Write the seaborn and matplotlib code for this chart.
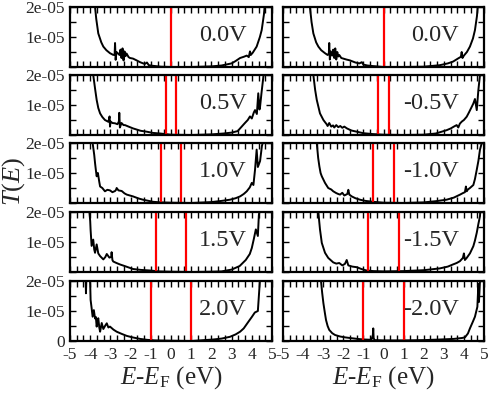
import numpy as np
import matplotlib
matplotlib.use("Agg")
import matplotlib.pyplot as plt
from matplotlib.ticker import AutoMinorLocator, FixedLocator, FixedFormatter
import seaborn as sns

sns.set_style("ticks")
plt.rcParams['font.family'] = ['Liberation Serif', 'DejaVu Serif']
plt.rcParams['mathtext.fontset'] = 'custom'
plt.rcParams['mathtext.rm'] = 'Liberation Serif'
plt.rcParams['mathtext.it'] = 'Liberation Serif:italic'

# ---- data (T(E) in units of 1e-05) ----
SCALE = 1e-05
bias_left = [0.0, 0.5, 1.0, 1.5, 2.0]
bias_right = [0.0, -0.5, -1.0, -1.5, -2.0]
label_left = ["0.0V", "0.5V", "1.0V", "1.5V", "2.0V"]
label_right = ["0.0V", "-0.5V", "-1.0V", "-1.5V", "-2.0V"]

x_l1 = [-3.85,-3.76,-3.7,-3.6,-3.45,-3.35,-3.2,-3.02,-2.85,-2.79,-2.77,-2.74,-2.7,-2.62,-2.55,-2.5,-2.45,-2.4,-2.35,-2.3,-2.25,-2.2,-2.1,-2.03,-1.88,-1.7,-1.53,-1.3,-1.19,-1.1,-0.9,-0.5,0.0,1.0,2.0,2.5,3.0,3.2,3.42,3.6,3.75,3.85,3.91,3.95,4.05,4.24,4.4,4.49,4.6,4.7]
y_l1 = [2.5,2.0,1.6,1.12,0.82,0.68,0.56,0.46,0.40,0.42,0.80,0.24,0.50,0.45,0.40,0.58,0.30,0.62,0.22,0.52,0.36,0.45,0.33,0.30,0.28,0.22,0.16,0.10,0.15,0.06,0.04,0.01,0.0,0.0,0.02,0.05,0.12,0.20,0.30,0.34,0.38,0.33,0.52,0.40,0.48,0.68,1.0,1.23,1.75,2.5]

x_r1 = [-3.72,-3.66,-3.58,-3.49,-3.35,-3.24,-3.1,-2.91,-2.78,-2.72,-2.70,-2.67,-2.62,-2.55,-2.5,-2.45,-2.4,-2.35,-2.3,-2.25,-2.2,-2.1,-2.0,-1.85,-1.67,-1.4,-1.2,-1.08,-1.0,-0.8,-0.52,0.0,1.0,2.0,2.8,3.2,3.46,3.7,3.85,3.89,3.93,4.0,4.15,4.3,4.45,4.55,4.65,4.75]
y_r1 = [2.5,2.0,1.5,1.12,0.82,0.68,0.56,0.46,0.40,0.45,0.80,0.25,0.52,0.38,0.58,0.30,0.62,0.25,0.50,0.35,0.40,0.30,0.28,0.25,0.22,0.15,0.12,0.16,0.08,0.05,0.03,0.0,0.0,0.01,0.06,0.12,0.18,0.28,0.34,0.50,0.30,0.38,0.50,0.68,0.95,1.23,1.7,2.5]

x_l2 = [-3.9,-3.85,-3.75,-3.68,-3.6,-3.51,-3.4,-3.27,-3.1,-3.04,-3.02,-2.99,-2.9,-2.77,-2.65,-2.58,-2.56,-2.53,-2.45,-2.35,-2.28,-2.1,-1.88,-1.5,-1.2,-0.9,-0.54,0.0,1.0,2.0,2.6,3.0,3.3,3.5,3.66,3.8,3.91,4.0,4.1,4.16,4.25,4.32,4.38,4.41,4.48,4.54,4.6,4.65]
y_l2 = [2.5,2.0,1.5,1.17,0.9,0.72,0.6,0.5,0.44,0.62,0.28,0.45,0.40,0.39,0.36,0.45,0.74,0.25,0.40,0.33,0.33,0.28,0.22,0.14,0.11,0.07,0.05,0.01,0.0,0.02,0.05,0.08,0.13,0.28,0.40,0.50,0.62,0.55,0.75,0.83,0.70,1.39,0.85,0.95,1.4,1.75,2.1,2.5]

x_r2 = [-3.55,-3.49,-3.4,-3.32,-3.16,-2.99,-2.9,-2.83,-2.78,-2.7,-2.6,-2.51,-2.45,-2.35,-2.25,-2.15,-2.05,-1.95,-1.82,-1.6,-1.33,-1.0,-0.52,0.0,1.0,2.0,2.6,3.14,3.35,3.5,3.64,3.72,3.8,3.9,4.0,4.14,4.25,4.39,4.47,4.55,4.64,4.72,4.8,4.85]
y_r2 = [2.5,2.0,1.5,1.17,0.72,0.50,0.42,0.36,0.30,0.40,0.28,0.32,0.25,0.33,0.26,0.30,0.24,0.28,0.22,0.15,0.11,0.06,0.03,0.01,0.0,0.01,0.05,0.16,0.22,0.28,0.33,0.25,0.38,0.45,0.50,0.61,0.75,0.94,1.05,1.20,0.83,1.5,2.0,2.5]

x_l3 = [-3.92,-3.88,-3.8,-3.76,-3.72,-3.68,-3.62,-3.55,-3.51,-3.4,-3.27,-3.15,-3.02,-2.9,-2.77,-2.72,-2.69,-2.6,-2.44,-2.3,-2.19,-1.88,-1.6,-1.39,-1.1,-0.89,-0.5,0.0,1.0,2.0,2.5,2.92,3.2,3.42,3.6,3.75,3.9,4.0,4.08,4.16,4.24,4.3,4.41,4.5,4.54,4.6]
y_l3 = [2.5,2.0,1.6,1.33,1.1,0.89,1.0,0.7,0.55,0.5,0.39,0.44,0.42,0.36,0.40,0.44,0.50,0.42,0.40,0.32,0.28,0.22,0.15,0.11,0.07,0.04,0.02,0.01,0.0,0.03,0.07,0.11,0.16,0.22,0.30,0.39,0.52,0.67,0.60,1.11,1.78,1.2,1.4,1.9,2.0,2.5]

x_r3 = [-3.38,-3.32,-3.25,-3.19,-3.13,-3.07,-2.91,-2.75,-2.6,-2.5,-2.35,-2.25,-2.16,-2.05,-1.95,-1.8,-1.75,-1.7,-1.58,-1.4,-1.17,-0.9,-0.51,0.0,1.0,2.0,2.6,3.14,3.5,3.81,3.95,4.05,4.1,4.14,4.2,4.3,4.47,4.55,4.64,4.72,4.8,4.89,4.95]
y_r3 = [2.5,2.0,1.5,1.22,1.0,0.89,0.67,0.50,0.45,0.39,0.33,0.30,0.28,0.34,0.25,0.30,0.44,0.28,0.22,0.16,0.11,0.07,0.04,0.01,0.0,0.02,0.06,0.11,0.18,0.28,0.33,0.36,0.55,0.39,0.45,0.50,0.60,0.80,1.11,1.4,1.78,2.0,2.5]

x_l4 = [-4.08,-4.04,-4.0,-3.98,-3.93,-3.85,-3.8,-3.76,-3.68,-3.6,-3.51,-3.35,-3.25,-3.18,-3.05,-2.96,-2.94,-2.9,-2.86,-2.7,-2.52,-2.3,-1.88,-1.5,-1.04,-0.6,0.0,1.0,2.0,2.5,3.0,3.4,3.7,3.9,4.0,4.1,4.2,4.3,4.35,4.4,4.45]
y_l4 = [2.5,2.0,1.7,1.4,0.87,1.08,0.75,0.64,0.92,0.62,0.53,0.42,0.50,0.60,0.48,0.50,0.66,0.40,0.35,0.30,0.25,0.20,0.10,0.07,0.05,0.02,0.01,0.0,0.01,0.02,0.08,0.2,0.4,0.6,0.8,1.1,1.42,1.2,1.9,2.1,2.5]

x_r4 = [-3.3,-3.24,-3.2,-3.16,-3.07,-2.91,-2.75,-2.6,-2.5,-2.35,-2.2,-2.05,-1.92,-1.83,-1.75,-1.55,-1.33,-1.1,-0.84,-0.5,0.0,1.0,2.0,2.8,3.2,3.45,3.64,3.8,3.95,4.0,4.05,4.14,4.3,4.47,4.55,4.64,4.72,4.8,4.86]
y_r4 = [2.5,2.0,1.7,1.42,0.97,0.64,0.47,0.38,0.32,0.28,0.30,0.22,0.27,0.40,0.22,0.18,0.16,0.10,0.05,0.03,0.02,0.03,0.06,0.12,0.18,0.25,0.30,0.36,0.47,0.62,0.40,0.47,0.62,0.86,1.05,1.31,1.6,1.86,2.5]

x_l5 = [-4.24,-4.21,-4.17,-4.05,-4.0,-3.98,-3.93,-3.88,-3.82,-3.76,-3.72,-3.68,-3.64,-3.6,-3.55,-3.51,-3.43,-3.35,-3.25,-3.18,-3.1,-3.02,-2.85,-2.69,-2.45,-2.19,-1.9,-1.53,-1.2,-0.8,0.0,1.0,2.09,2.5,2.92,3.2,3.42,3.6,3.83,4.0,4.15,4.3,4.4,4.45]
y_l5 = [2.5,1.59,2.5,2.5,1.9,1.37,1.1,0.81,1.03,0.75,0.80,0.48,0.65,0.76,0.45,0.31,0.6,0.40,0.52,0.59,0.45,0.48,0.38,0.31,0.24,0.17,0.12,0.07,0.04,0.02,0.01,0.0,0.05,0.08,0.14,0.22,0.31,0.42,0.64,0.80,0.95,1.0,2.0,2.5]

x_r5 = [-3.15,-3.11,-3.05,-2.99,-2.92,-2.86,-2.78,-2.70,-2.55,-2.41,-2.16,-1.9,-1.67,-1.3,-0.96,-0.6,-0.53,-0.51,-0.49,-0.45,0.0,1.0,2.0,2.81,3.5,3.9,4.05,4.2,4.3,4.45,4.55,4.67,4.72,4.75,4.8,4.85]
y_r5 = [2.5,2.0,1.6,1.26,0.95,0.70,0.50,0.37,0.26,0.20,0.15,0.12,0.10,0.07,0.05,0.04,0.20,0.42,0.10,0.03,0.02,0.02,0.03,0.05,0.07,0.10,0.12,0.25,0.42,0.65,0.81,1.14,1.9,1.3,2.0,2.5]

left_x = [x_l1, x_l2, x_l3, x_l4, x_l5]
left_y = [y_l1, y_l2, y_l3, y_l4, y_l5]
right_x = [x_r1, x_r2, x_r3, x_r4, x_r5]
right_y = [y_r1, y_r2, y_r3, y_r4, y_r5]

x_ticks = [-5, -4, -3, -2, -1, 0, 1, 2, 3, 4, 5]
y_ticks = [0, 1e-05, 2e-05]
y_ticklabels = ["0", "1e-05", "2e-05"]

# ---- layout ----
W, H = 491, 393
fig = plt.figure(figsize=(W / 100, H / 100), dpi=100)
rows_px = [(7, 67), (75, 135), (143, 203), (212, 272), (281, 341)]
cols_px = [(70, 272), (283, 484)]


def setup(ax, row, col):
    ax.set_xlim(-5, 5)
    ax.set_ylim(0, 2e-05)
    ax.xaxis.set_major_locator(FixedLocator(x_ticks))
    ax.xaxis.set_minor_locator(AutoMinorLocator(3))
    ax.yaxis.set_major_locator(FixedLocator(y_ticks))
    ax.yaxis.set_minor_locator(AutoMinorLocator(2))
    ax.tick_params(which='both', direction='in', top=True, right=True,
                   length=4, width=1.0, labelsize=12.5, color='black')
    ax.tick_params(axis='x', pad=4.5)
    ax.tick_params(axis='y', pad=3.5)
    for sp in ax.spines.values():
        sp.set_linewidth(1.6)
        sp.set_color('black')
    if col == 0:
        labs = list(y_ticklabels)
        if row != 4:
            labs[0] = ""
        ax.yaxis.set_major_formatter(FixedFormatter(labs))
    else:
        ax.set_yticklabels([])
    if row == 4:
        ax.set_xticklabels([str(t) for t in x_ticks])
    else:
        ax.set_xticklabels([])
    ax.set_xlabel("")
    ax.set_ylabel("")


for col, (bx, by, biases, labels) in enumerate([
        (left_x, left_y, bias_left, label_left),
        (right_x, right_y, bias_right, label_right)]):
    c0, c1 = cols_px[col]
    for row in range(5):
        r0, r1 = rows_px[row]
        ax = fig.add_axes([c0 / W, 1 - r1 / H, (c1 - c0) / W, (r1 - r0) / H])
        yy = np.array(by[row]) * SCALE
        sns.lineplot(x=bx[row], y=yy, ax=ax, color='black', linewidth=1.4,
                     sort=False, estimator=None, legend=False)
        v = biases[row]
        if v == 0:
            ax.axvline(0.0, color='red', lw=1.6)
        else:
            ax.axvline(-abs(v) / 2, color='red', lw=1.6)
            ax.axvline(abs(v) / 2, color='red', lw=1.6)
        ax.text(0.875, 0.53, labels[row], transform=ax.transAxes, ha='right',
                va='center', fontsize=17.5)
        setup(ax, row, col)

# axis titles
fig.text(14 / W, 1 - 181 / H, r"$T(E)$", rotation=90, ha='center', va='center',
         fontsize=19)
for c0, c1 in cols_px:
    fig.text((c0 + c1) / 2 / W, 1 - 384 / H, r"$E$-$E_{\mathrm{F}}$ (eV)",
             ha='center', va='baseline', fontsize=18)

fig.savefig("out.png", dpi=100)
